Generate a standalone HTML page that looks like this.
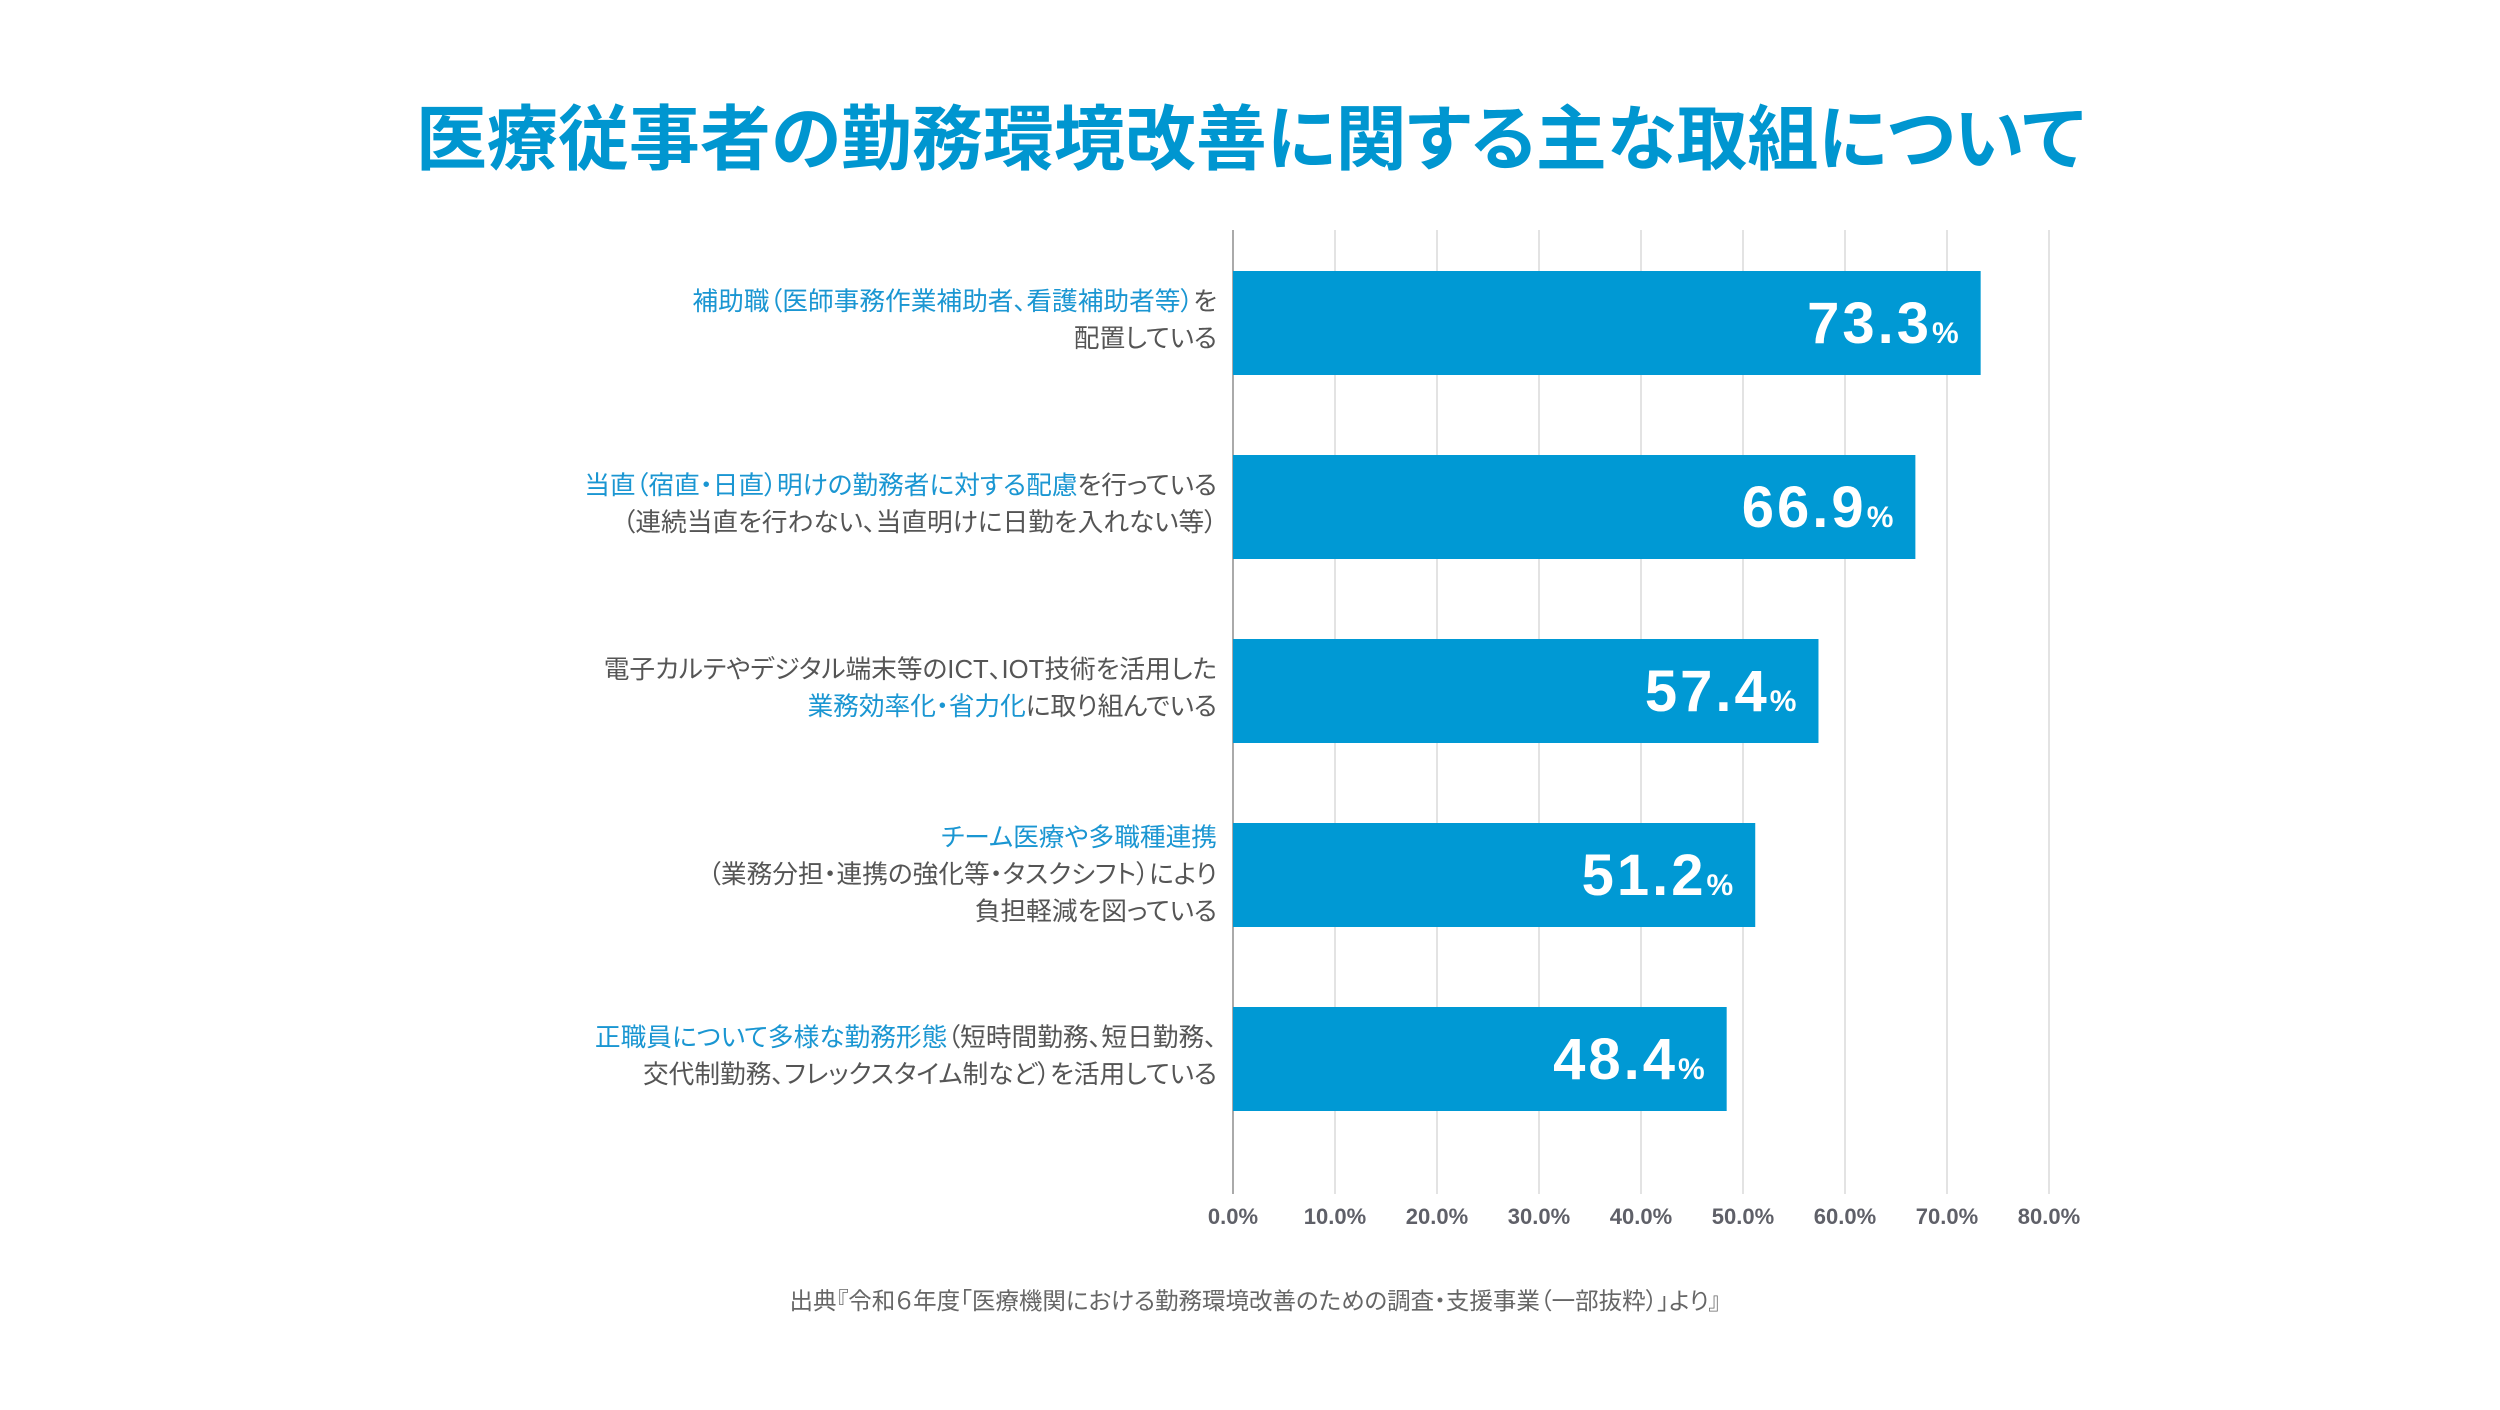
<!DOCTYPE html>
<html><head><meta charset="utf-8"><style>
body{margin:0;width:2500px;height:1410px;background:#fff;position:relative;overflow:hidden;font-family:"Liberation Sans","Noto Sans CJK JP",sans-serif}
#title{position:absolute;left:0;width:2500px;top:96px;text-align:center;font-size:71px;font-weight:bold;color:#0096d0;line-height:90px;font-feature-settings:"palt"}
.lbl{position:absolute;right:1283px;text-align:right;font-size:25.7px;line-height:37px;color:#555;font-feature-settings:"palt"}
.b{color:#1a96d2}
#foot{position:absolute;left:0;width:2510px;top:1282px;text-align:center;font-size:23.5px;color:#666;font-feature-settings:"palt"}
</style></head><body>
<div id="title">医療従事者の勤務環境改善に関する主な取組について</div>
<div class="lbl" style="top:284px"><span class="b">補助職（医師事務作業補助者、看護補助者等）</span>を<br>配置している</div>
<div class="lbl" style="top:468px"><span class="b">当直（宿直・日直）明けの勤務者に対する配慮</span>を行っている<br>（連続当直を行わない、当直明けに日勤を入れない等）</div>
<div class="lbl" style="top:652px">電子カルテやデジタル端末等のICT、IOT技術を活用した<br><span class="b">業務効率化・省力化</span>に取り組んでいる</div>
<div class="lbl" style="top:820px"><span class="b">チーム医療や多職種連携</span><br>（業務分担・連携の強化等・タスクシフト）により<br>負担軽減を図っている</div>
<div class="lbl" style="top:1020px"><span class="b">正職員について多様な勤務形態</span>（短時間勤務、短日勤務、<br>交代制勤務、フレックスタイム制など）を活用している</div>
<svg id="chart" width="2500" height="1410" style="position:absolute;left:0;top:0"></svg>
<div id="foot">出典『令和６年度「医療機関における勤務環境改善のための調査・支援事業（一部抜粋）」より』</div>
<script>
const categories=["補助職","当直明け配慮","ICT・IOT活用","チーム医療","多様な勤務形態"];
const values=[73.3,66.9,57.4,51.2,48.4];
const ticks=[0,10,20,30,40,50,60,70,80];
const svg=document.getElementById('chart');
const NS='http://www.w3.org/2000/svg';
const x0=1233,pxPer=10.2,yTop=230,yBot=1194;
const x=v=>x0+v*pxPer;
const y=i=>271+i*184;
function mk(t,a){const e=document.createElementNS(NS,t);for(const k in a)e.setAttribute(k,a[k]);svg.appendChild(e);return e;}
ticks.forEach(t=>{
  if(t>0){const g=mk('line',{x1:x(t),x2:x(t),y1:yTop,y2:yBot,stroke:'#e3e3e3','stroke-width':2});
  
  }
  const tx=mk('text',{x:x(t),y:1224,'text-anchor':'middle','font-size':22,'font-weight':'bold',fill:'#5f6068','font-family':'Liberation Sans, sans-serif'});
  tx.textContent=t.toFixed(1)+'%';
  
  
});
const ax=mk('line',{x1:x0,x2:x0,y1:yTop,y2:yBot,stroke:'#aaa','stroke-width':2});


values.forEach((v,i)=>{
  const r=mk('rect',{x:x0,y:y(i),width:x(v)-x0,height:104,fill:'#0099d4'});
  
  
  const t=mk('text',{x:x(v)-22,y:y(i)+72,'text-anchor':'end',fill:'#fff','font-weight':'bold','font-size':58,'letter-spacing':3,'font-family':'Liberation Sans, sans-serif'});
  t.innerHTML=v.toFixed(1)+'<tspan font-size="30" letter-spacing="0">%</tspan>';
  
  
});
</script>
</body></html>
